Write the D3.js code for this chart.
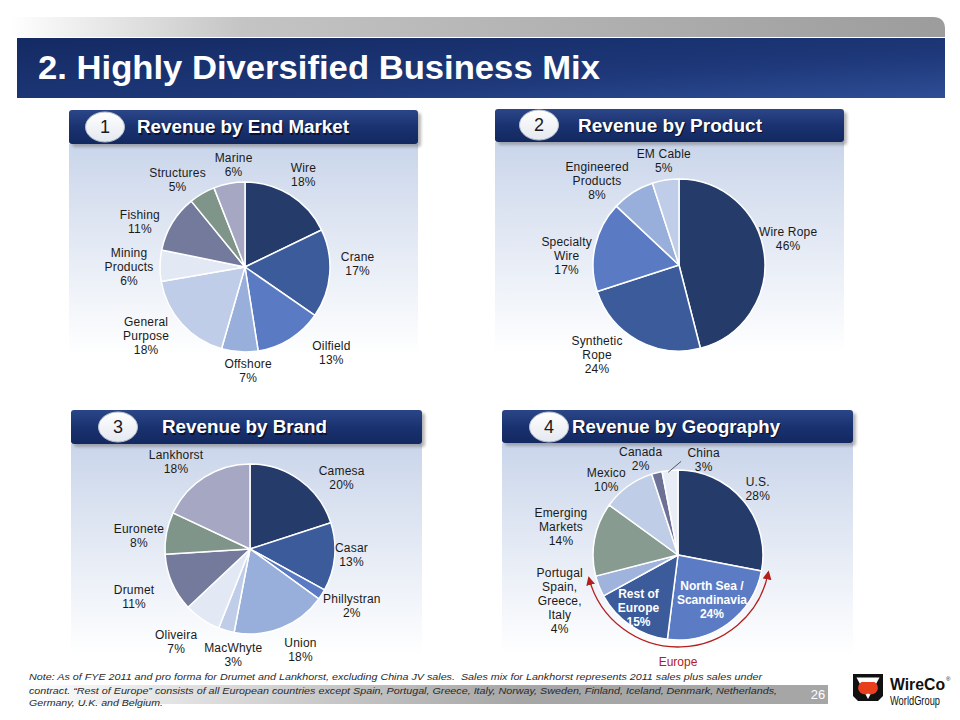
<!DOCTYPE html>
<html><head><meta charset="utf-8">
<script src="https://cdn.jsdelivr.net/npm/d3@7/dist/d3.min.js"></script>
<style>body{margin:0;background:#fff}svg{display:block}</style>
</head><body>
<svg id="c" width="960" height="720"></svg>
<script>
// ---------------- DATA ----------------
const endMarketCats = ["Wire","Crane","Oilfield","Offshore","General\nPurpose","Mining\nProducts","Fishing","Structures","Marine"];
const endMarketValues = [18,17,13,7,18,6,11,5,6];

const productCats = ["Wire Rope","Synthetic\nRope","Specialty\nWire","Engineered\nProducts","EM Cable"];
const productValues = [46,24,17,8,5];

const brandCats = ["Camesa","Casar","Phillystran","Union","MacWhyte","Oliveira","Drumet","Euronete","Lankhorst"];
const brandValues = [20,13,2,18,3,7,11,8,18];

const geoCats = ["U.S.","North Sea /\nScandinavia","Rest of\nEurope","Portugal\nSpain,\nGreece,\nItaly","Emerging\nMarkets","Mexico","Canada","China"];
const geoValues = [28,24,15,4,14,10,2,3];

const panelTitles = ["Revenue by End Market","Revenue by Product","Revenue by Brand","Revenue by Geography"];
const panelNumbers = ["1","2","3","4"];

// ---------------- STYLE / LAYOUT ----------------
const navy="#253c6b", blue2="#3b5b9b", blue3="#5a7bc3", blue4="#98aedb", blue5="#bfcde8", blue6="#e3e9f4",
      slate="#737a9c", sage="#7f958a", lav="#a6a8c3";
const endMarketColors=[navy,blue2,blue3,blue4,blue5,blue6,slate,sage,lav];
const productColors=[navy,blue2,blue3,blue4,blue5];
const brandColors=[navy,blue2,blue3,blue4,blue5,blue6,slate,sage,lav];
const geoColors=[navy,"#5b7cc4",blue2,"#9fb3dc","#879b90","#c0cde6","#6e7196","#e8edf6"];

const endMarketNudge=[[0,1],[3,-12],[28,-8],[10,-6],[-17,-5],[-6,1],[-11,12],[-12,8],[9,6]];
const productNudge=[[0,-13],[-29,-7],[-5,15],[-23,9],[2,4]];
const brandNudge=[[27,18],[-8,-5],[9,-2],[10,-2],[14,0],[-12,2],[-15,4],[-3,7],[-15,6]];
const geoNudge=[[-5,4],[1,-1],[-8,6],[-16,5],[-9,-8],[-7,14],[-10,10],[36,14]];

const FONT="'Liberation Sans', Arial, Helvetica, sans-serif";

const svg=d3.select("#c");
const defs=svg.append("defs");
function lin(id,x1,y1,x2,y2,stops,units){
  const g=defs.append("linearGradient").attr("id",id).attr("x1",x1).attr("y1",y1).attr("x2",x2).attr("y2",y2);
  if(units) g.attr("gradientUnits",units);
  stops.forEach(s=>g.append("stop").attr("offset",s[0]).attr("stop-color",s[1]));
}
lin("gStrip","10","0","945","0",[[0,"#ffffff"],[0.25,"#c4c4c4"],[1,"#9c9c9c"]],"userSpaceOnUse");
lin("gTitle","0","0","1","1",[[0,"#142a63"],[0.6,"#1d3778"],[1,"#2e4d95"]]);
lin("gHead","0","0","0","1",[[0,"#2b4688"],[0.5,"#1a3270"],[1,"#122860"]]);
lin("gPanel","0","0","0","1",[[0,"#c9d5eb"],[0.2,"#d6dfef"],[0.92,"#ffffff"]]);
lin("gFoot","15","0","520","0",[[0,"#ffffff"],[1,"#a6a6a6"]],"userSpaceOnUse");
lin("gBadge","0","0","0","1",[[0,"#ffffff"],[1,"#e4e8f0"]]);
const blur=defs.append("filter").attr("id","sh").attr("x","-10%").attr("y","-30%").attr("width","130%").attr("height","170%");
blur.append("feGaussianBlur").attr("stdDeviation",1.6);

// ---------------- TOP BANNER ----------------
svg.append("path").attr("d","M10,17 H933 Q945,17 945,29 V37 H10 Z").attr("fill","url(#gStrip)");
svg.append("rect").attr("x",17).attr("y",38).attr("width",928).attr("height",60).attr("fill","url(#gTitle)");
svg.append("text").attr("x",38).attr("y",79).attr("fill","#fff")
  .attr("font-family","'Liberation Sans Narrow','Arial Narrow',"+FONT).attr("font-weight","bold")
  .attr("font-size",33).attr("textLength",562).attr("lengthAdjust","spacingAndGlyphs")
  .text("2. Highly Diversified Business Mix");

// ---------------- PANEL HEADERS ----------------
const panelBars=[[69,110,349,34],[495,109,349,33],[71,410,351,34],[502,410,351,33]];
const badges=[[105,127],[539,125],[118,427],[549,427]];
const titleSpan=[[137,212],[578,184],[162,165],[572,208]];
panelBars.forEach((b,i)=>{
  svg.append("rect").attr("x",b[0]).attr("y",b[1]+b[3]).attr("width",b[2]).attr("height",230).attr("fill","url(#gPanel)");
  svg.append("rect").attr("x",b[0]+3).attr("y",b[1]+3).attr("width",b[2]).attr("height",b[3]).attr("rx",3)
    .attr("fill","#7a7a7a").attr("opacity",0.55).attr("filter","url(#sh)");
  svg.append("rect").attr("x",b[0]).attr("y",b[1]).attr("width",b[2]).attr("height",b[3]).attr("rx",3).attr("fill","url(#gHead)");
  const cy=b[1]+b[3]/2, t=titleSpan[i];
  svg.append("text").attr("x",t[0]+1.2).attr("y",cy+1.2).attr("dy","0.35em").attr("fill","#050c24").attr("opacity",0.8)
    .attr("font-family",FONT).attr("font-weight","bold").attr("font-size",18)
    .attr("textLength",t[1]).attr("lengthAdjust","spacingAndGlyphs").text(panelTitles[i]);
  svg.append("text").attr("x",t[0]).attr("y",cy).attr("dy","0.35em").attr("fill","#fff")
    .attr("font-family",FONT).attr("font-weight","bold").attr("font-size",18)
    .attr("textLength",t[1]).attr("lengthAdjust","spacingAndGlyphs").text(panelTitles[i]);
  const bg=badges[i];
  svg.append("ellipse").attr("cx",bg[0]).attr("cy",bg[1]).attr("rx",19.5).attr("ry",15)
    .attr("fill","url(#gBadge)").attr("stroke","#b8bfcc").attr("stroke-width",1);
  svg.append("text").attr("x",bg[0]).attr("y",bg[1]).attr("dy","0.36em").attr("text-anchor","middle")
    .attr("font-family",FONT).attr("font-size",18).attr("fill","#1a1a1a").text(panelNumbers[i]);
});

// ---------------- PIES ----------------
function drawPie(cfg){
  const g=svg.append("g").attr("transform",`translate(${cfg.cx},${cfg.cy})`);
  const pie=d3.pie().sort(null).value(d=>d);
  const arcs=pie(cfg.values);
  const arc=d3.arc().innerRadius(0).outerRadius(cfg.r);
  g.selectAll("path.s").data(arcs).join("path").attr("class","s").attr("d",arc)
    .attr("fill",(d,i)=>cfg.colors[i]).attr("stroke","#fff").attr("stroke-width",1.5).attr("stroke-linejoin","round");
  const outer=d3.arc().innerRadius(110).outerRadius(110);
  const inner=d3.arc().innerRadius(56).outerRadius(56);
  arcs.forEach((d,i)=>{
    const isIn=cfg.inside && cfg.inside.includes(i);
    const c=(isIn?inner:outer).centroid(d);
    const x=c[0]+cfg.nudge[i][0], y=c[1]+cfg.nudge[i][1];
    const lines=cfg.cats[i].split("\n").concat([cfg.values[i]+"%"]);
    const lh=14, y0=y-(lines.length-1)*lh/2;
    const t=g.append("text").attr("text-anchor","middle").attr("font-family",FONT)
      .attr("font-size",12).attr("fill",isIn?"#fff":"#1a1a1a").attr("font-weight",isIn?"bold":"normal")
      .attr("letter-spacing",isIn?0:0.2);
    lines.forEach((l,k)=>t.append("tspan").attr("x",x).attr("y",y0+k*lh).attr("dy","0.36em").text(l));
  });
  return {g,arcs};
}

drawPie({cx:245,cy:267,r:85,values:endMarketValues,cats:endMarketCats,colors:endMarketColors,nudge:endMarketNudge});
drawPie({cx:679,cy:265,r:86,values:productValues,cats:productCats,colors:productColors,nudge:productNudge});
drawPie({cx:250,cy:549,r:85,values:brandValues,cats:brandCats,colors:brandColors,nudge:brandNudge});
const geo=drawPie({cx:678,cy:555,r:85,values:geoValues,cats:geoCats,colors:geoColors,nudge:geoNudge,inside:[1,2]});

// China leader line
{
  const d=geo.arcs[7];
  const p=d3.arc().innerRadius(84).outerRadius(84).centroid(d);
  geo.g.append("line").attr("x1",p[0]-2).attr("y1",p[1]+1).attr("x2",p[0]+11).attr("y2",p[1]-10)
    .attr("stroke","#333").attr("stroke-width",0.8);
}

// Europe arc with arrows
{
  const m=defs.append("marker").attr("id","arr").attr("viewBox","0 0 10 10").attr("refX",8).attr("refY",5)
    .attr("markerWidth",9).attr("markerHeight",9).attr("markerUnits","userSpaceOnUse").attr("orient","auto-start-reverse");
  m.append("path").attr("d","M0,0 L10,5 L0,10 Z").attr("fill","#b3201c");
  const a0=geo.arcs[0].endAngle, a1=geo.arcs[3].endAngle;
  const p=d3.path();
  p.arc(0,0,92,a0-Math.PI/2,a1-Math.PI/2,false);
  geo.g.append("path").attr("d",p.toString()).attr("fill","none").attr("stroke","#b3201c").attr("stroke-width",1.3)
    .attr("marker-start","url(#arr)").attr("marker-end","url(#arr)");
  geo.g.append("text").attr("x",0).attr("y",107).attr("dy","0.36em").attr("text-anchor","middle")
    .attr("font-family",FONT).attr("font-size",12).attr("fill","#b3201c").text("Europe");
}

// ---------------- FOOTER ----------------
svg.append("rect").attr("x",15).attr("y",685).attr("width",813).attr("height",19).attr("fill","url(#gFoot)");
const note=[
 ["Note: As of FYE 2011 and pro forma for Drumet and Lankhorst, excluding China JV sales.\u00a0 Sales mix for Lankhorst represents 2011 sales plus sales under",733],
 ["contract. \u201cRest of Europe\u201d consists of all European countries except Spain, Portugal, Greece, Italy, Norway, Sweden, Finland, Iceland, Denmark, Netherlands,",748],
 ["Germany, U.K. and Belgium.",134]];
note.forEach((n,i)=>{
  svg.append("text").attr("x",29).attr("y",[677,691,703][i]).attr("dy","0.35em")
    .attr("font-family",FONT).attr("font-style","italic").attr("font-size",9.5).attr("fill","#2a2a2a")
    .attr("textLength",n[1]).attr("lengthAdjust","spacingAndGlyphs").text(n[0]);
});
svg.append("text").attr("x",818).attr("y",694).attr("dy","0.35em").attr("text-anchor","middle")
  .attr("font-family",FONT).attr("font-size",13).attr("fill","#fff").text("26");

// logo
svg.append("path").attr("d","M853,674 H883 V696 L878,701 H858 L853,696 Z").attr("fill","#111");
svg.append("path").attr("d","M856.5,677.5 H879.5 L868,699 Z").attr("fill","#fff");
svg.append("path").attr("d","M861.5,682 H874.5 A6.5,6.5 0 0 1 868,693.5 A6.5,6.5 0 0 1 861.5,682 Z").attr("fill","#e8401c");
svg.append("text").attr("x",890).attr("y",690).attr("font-family",FONT).attr("font-weight","bold").attr("font-size",16)
  .attr("fill","#111").attr("textLength",55).attr("lengthAdjust","spacingAndGlyphs").text("WireCo");
svg.append("text").attr("x",946).attr("y",681).attr("font-family",FONT).attr("font-size",6).attr("fill","#111").text("\u00ae");
svg.append("text").attr("x",890).attr("y",705).attr("font-family",FONT).attr("font-size",12.5)
  .attr("fill","#111").attr("textLength",50).attr("lengthAdjust","spacingAndGlyphs").text("WorldGroup");
</script>
</body></html>
